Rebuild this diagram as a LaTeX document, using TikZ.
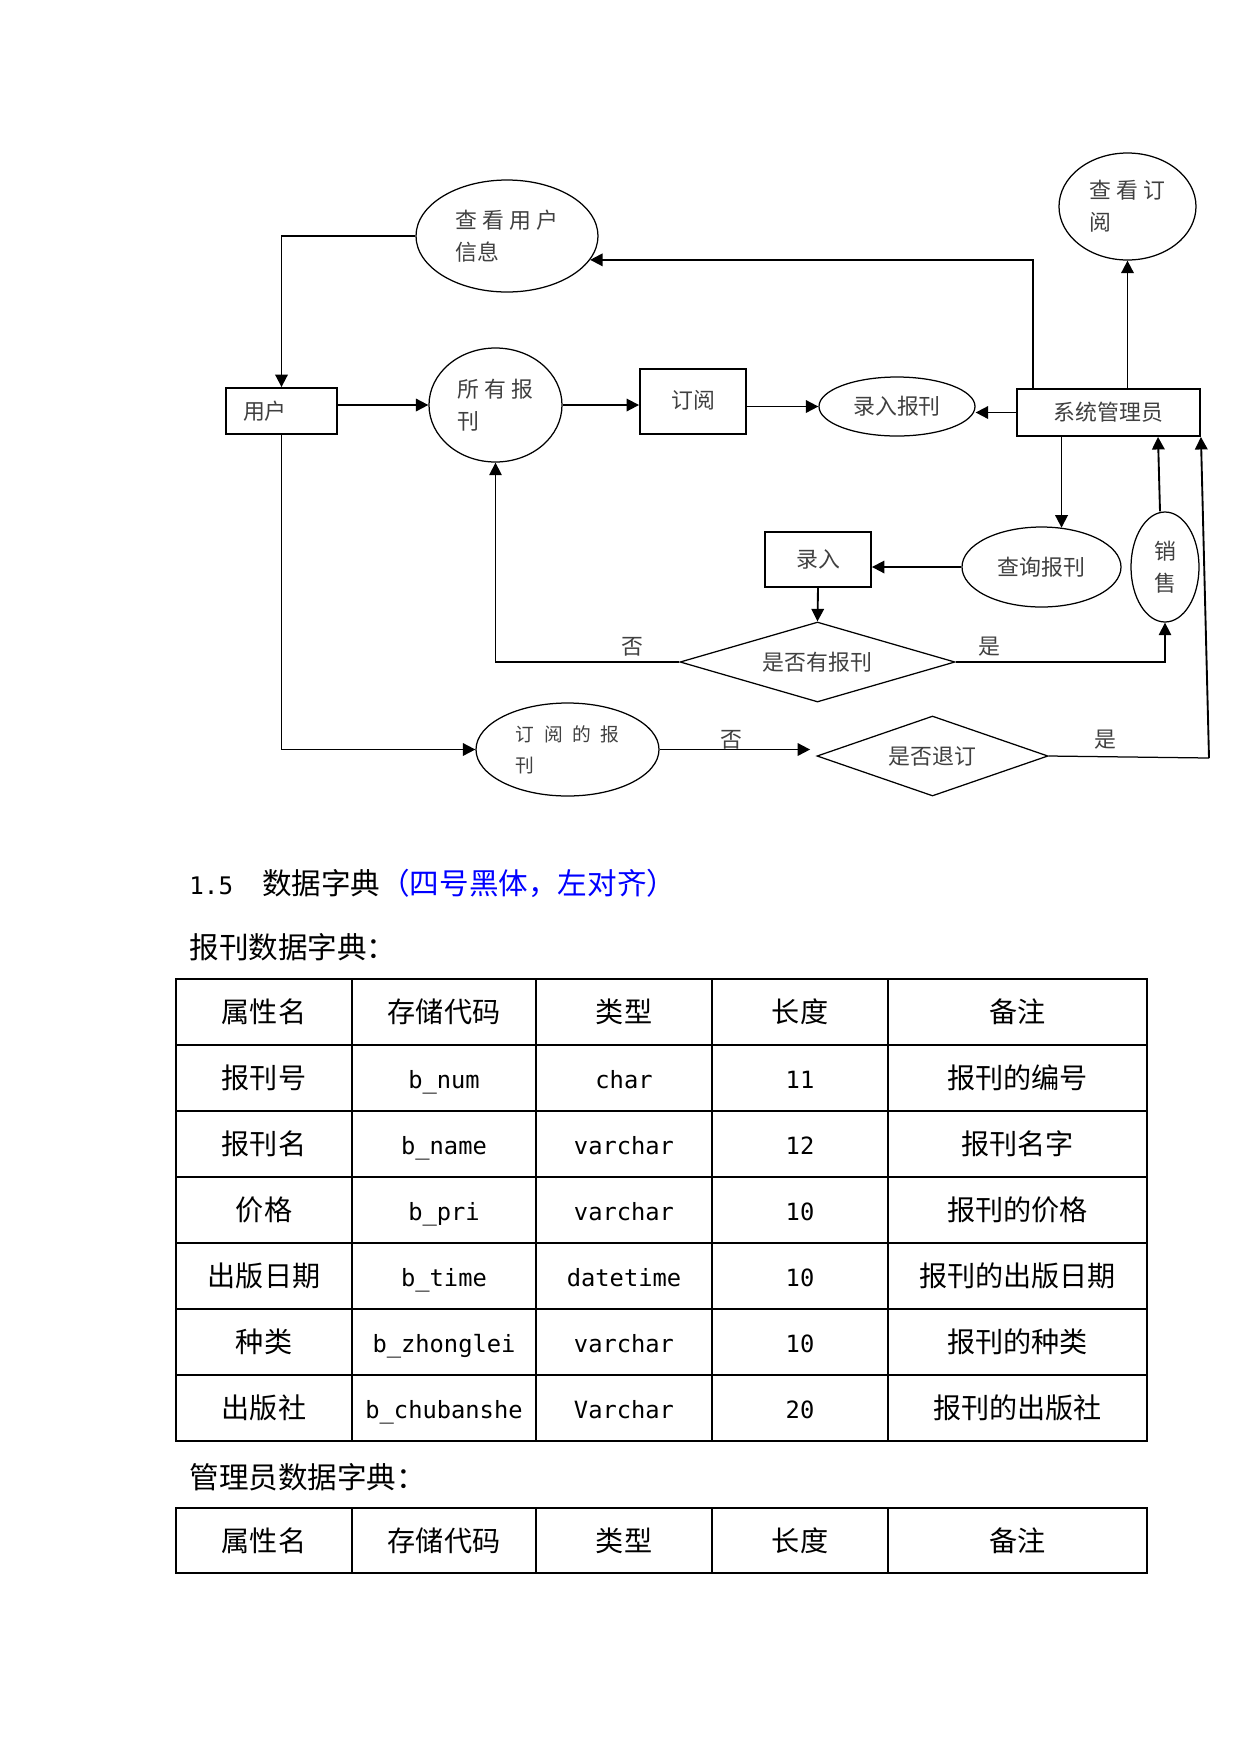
\documentclass[tikz,border=0pt]{standalone}
\usepackage{fontspec}
\setmainfont{Noto Sans CJK SC}
\newfontfamily\monofont{DejaVu Sans Mono}
\usetikzlibrary{positioning,arrows.meta,shapes.geometric}
\newdimen\pxd \pxd=0.48pt

\begin{document}
\begin{tikzpicture}[x=0.48pt, y=-0.48pt,
  every node/.style = {font=\fontsize{10.5}{15.5}\selectfont, text=black!75},
  box/.style = {draw=black, line width=0.9pt, inner sep=0pt},
  ell/.style = {ellipse, draw=black, line width=0.6pt, inner sep=0pt, align=left},
  dia/.style = {diamond, draw=black, line width=0.6pt, inner sep=0pt},
  flow/.style = {draw=black, line width=0.9pt, -{Triangle[length=6pt,width=6pt]}},
  thin flow/.style = {flow, line width=0.6pt},
  cell/.style = {font=\fontsize{13.5}{16}\selectfont, text=black},
  code/.style = {font=\monofont\fontsize{11.4}{14}\selectfont, text=black,
    text height=2.1ex, text depth=0.3ex},
  heading/.style = {anchor=west, inner sep=0pt, font=\fontsize{14.2}{17}\selectfont, text=black},
  grid/.style = {line width=0.6pt}]
  \useasboundingbox (0,0) rectangle (1241,1754);

  % processes and stores
  \node[box, minimum width=111\pxd, minimum height=46\pxd, text width=77\pxd,
    inner xsep=17\pxd, align=left] (yonghu) at (281.5,411) {用户};
  \node[box, minimum width=106\pxd, minimum height=65\pxd] (dingyue) at (693,401.5) {\raisebox{5\pxd}{订阅}};
  \node[box, minimum width=106\pxd, minimum height=55\pxd] (luru) at (818,559.5) {录入};
  \node[box, minimum width=183\pxd, minimum height=47\pxd] (admin) at (1108.5,412.5) {系统管理员};

  \node[ell, minimum width=182\pxd, minimum height=112\pxd] (userinfo) at (507,236) {查 看 用 户\\信息};
  \node[ell, minimum width=133\pxd, minimum height=114\pxd] (allpaper) at (495.5,405) {所 有 报\\刊};
  \node[ell, minimum width=137\pxd, minimum height=107\pxd] (viewsub) at (1127.5,206.5) {查 看 订\\阅};
  \node[ell, minimum width=156\pxd, minimum height=59\pxd] (inputpaper) at (897,406.5) {录入报刊};
  \node[ell, minimum width=159\pxd, minimum height=80\pxd] (query) at (1041.5,567) {查询报刊};
  \node[ell, minimum width=68\pxd, minimum height=110\pxd] (sale) at (1165,567) {销\\售};
  \node[ell, minimum width=183\pxd, minimum height=93\pxd, font=\fontsize{9}{15}\selectfont]
    (subpaper) at (567.5,749.5) {订\enspace 阅\enspace 的\enspace 报\\刊};

  \node[dia, aspect=3.4, minimum width=275\pxd, minimum height=80\pxd] (haspaper) at (817.5,662) {是否有报刊};
  \node[dia, aspect=2.9, minimum width=231\pxd, minimum height=80\pxd] (cancel) at (932.5,756) {是否退订};

  \node (no1) at (632,647) {否};
  \node (yes1) at (989,647) {是};
  \node (no2) at (731,740) {否};
  \node (yes2) at (1105,740) {是};
  \coordinate (backturn) at (1209,758);

  % flows
  \draw[flow] (userinfo.west) -| (yonghu.north);
  \draw[flow] (yonghu.east |- allpaper.west) -- (allpaper.west);
  \draw[flow] (allpaper.east) -- (allpaper.east -| dingyue.west);
  \draw[flow] (dingyue.east |- inputpaper.west) -- (inputpaper.west);
  \draw[flow] (admin.west) -- (admin.west -| inputpaper.east);
  \draw[flow] ([xshift=17\pxd]admin.north west) |- (userinfo.-16);
  \draw[flow] (admin.north -| viewsub.south) -- (viewsub.south);
  \draw[flow] (admin.south -| query.63) -- (query.63);
  \draw[flow] (query.west) -- (query.west -| luru.east);
  \draw[flow] (luru.south) -- (haspaper.north);
  \draw[thin flow] (haspaper.west) -| (allpaper.south);
  \draw[thin flow] (haspaper.east) -| (sale.south);
  \draw[flow] ([xshift=-5\pxd]sale.north) -- ([xshift=-7\pxd]sale.north |- admin.south);
  \draw[flow] (yonghu.south) |- (subpaper.west);
  \draw[flow, shorten >=3pt] (subpaper.east) -- (subpaper.east -| cancel.west);
  \draw[line width=0.6pt] (cancel.east) -- (backturn);
  \draw[flow] (backturn) -- (admin.south east);

  % data dictionary
  \node[heading] (sec) at (189,883) {{\monofont\fontsize{11.6}{14}\selectfont 1.5}\hspace{29\pxd}数据字典{\color{blue}（四号黑体，左对齐）}};
  \node[heading] (tab1) at (189,947) {报刊数据字典：};
  \node[heading] (tab2) at (189,1477) {管理员数据字典：};

  \draw[grid] (176,979) rectangle (1147,1441);
  \foreach \y in {1045,1111,...,1375} \draw[grid] (176,\y) -- (1147,\y);
  \foreach \x in {352,536,712,888} \draw[grid] (\x,979) -- (\x,1441);
  \draw[grid] (176,1508) rectangle (1147,1573);
  \foreach \x in {352,536,712,888} \draw[grid] (\x,1508) -- (\x,1573);

  \foreach \t/\x [count=\i] in {属性名/264, 存储代码/444, 类型/624, 长度/800, 备注/1017.5} {
    \node[cell] (h1-\i) at (\x,1012) {\t};
    \node[cell] (h2-\i) at (\x,1540.5) {\t};
  }
  \foreach \fname/\fcode/\ftype/\flen/\fnote [count=\r] in {
      报刊号/b\_num/char/11/报刊的编号,
      报刊名/b\_name/varchar/12/报刊名字,
      价格/b\_pri/varchar/10/报刊的价格,
      出版日期/b\_time/datetime/10/报刊的出版日期,
      种类/b\_zhonglei/varchar/10/报刊的种类,
      出版社/b\_chubanshe/Varchar/20/报刊的出版社} {
    \pgfmathsetmacro\yc{1012+66*\r}
    \node[cell] (r\r-1) at (264,\yc) {\fname};
    \node[code] (r\r-2) at (444,\yc) {\fcode};
    \node[code] (r\r-3) at (624,\yc) {\ftype};
    \node[code] (r\r-4) at (800,\yc) {\flen};
    \node[cell] (r\r-5) at (1017.5,\yc) {\fnote};
  }
\end{tikzpicture}
\end{document}
